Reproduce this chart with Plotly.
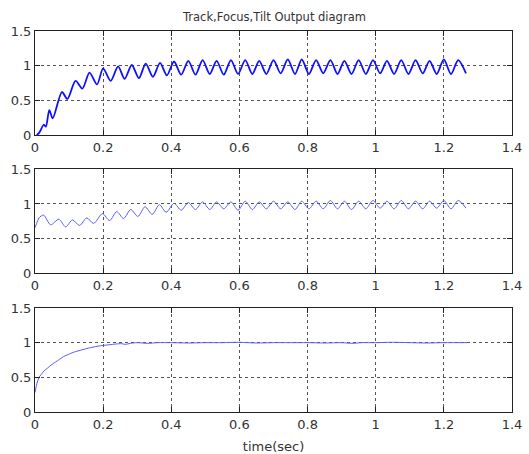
import plotly.graph_objects as go

# ---------------- data ----------------
x_ticks = [0, 0.2, 0.4, 0.6, 0.8, 1.0, 1.2, 1.4]
x_tick_labels = ["0", "0.2", "0.4", "0.6", "0.8", "1", "1.2", "1.4"]
y_ticks = [0, 0.5, 1.0, 1.5]
y_tick_labels = ["0", "0.5", "1", "1.5"]

title_text = "Track,Focus,Tilt Output diagram"
x_title = "time(sec)"

# Track output (top panel): peaks / troughs
track_t = [0.005, 0.012, 0.026, 0.032, 0.042, 0.052, 0.079, 0.095, 0.119, 0.139,
           0.160, 0.182, 0.200, 0.222, 0.244, 0.263, 0.284, 0.305, 0.325, 0.346,
           0.367, 0.387, 0.408, 0.429,
           0.450, 0.471, 0.492, 0.513, 0.533, 0.554, 0.575, 0.596, 0.617, 0.638,
           0.658, 0.679, 0.700, 0.721, 0.742, 0.763, 0.783, 0.804, 0.825, 0.846,
           0.867, 0.888, 0.908, 0.929, 0.950, 0.971, 0.992, 1.013, 1.033, 1.054,
           1.075, 1.096, 1.117, 1.138, 1.158, 1.179, 1.200, 1.221, 1.242, 1.265]
track_y = [0.00, 0.03, 0.15, 0.12, 0.36, 0.24, 0.62, 0.52, 0.78, 0.67,
           0.90, 0.73, 0.96, 0.78, 0.99, 0.81, 1.01, 0.82, 1.03, 0.84,
           1.04, 0.86, 1.06, 0.87,
           1.07, 0.87, 1.08, 0.88, 1.07, 0.87, 1.08, 0.88, 1.08, 0.88,
           1.07, 0.88, 1.08, 0.89, 1.09, 0.88, 1.09, 0.88, 1.08, 0.89,
           1.08, 0.88, 1.07, 0.88, 1.08, 0.88, 1.08, 0.89, 1.07, 0.88,
           1.08, 0.88, 1.08, 0.89, 1.07, 0.88, 1.09, 0.88, 1.08, 0.89]

# Focus output (middle panel)
focus_t = [0.000, 0.005, 0.012, 0.025, 0.046, 0.070, 0.090, 0.110, 0.131, 0.152,
           0.172, 0.198, 0.219, 0.240, 0.260, 0.281, 0.302, 0.323, 0.344, 0.365,
           0.385, 0.408, 0.429,
           0.450, 0.471, 0.492, 0.513, 0.533, 0.554, 0.575, 0.596, 0.617, 0.638,
           0.658, 0.679, 0.700, 0.721, 0.742, 0.763, 0.783, 0.804, 0.825, 0.846,
           0.867, 0.888, 0.908, 0.929, 0.950, 0.971, 0.992, 1.013, 1.033, 1.054,
           1.075, 1.096, 1.117, 1.138, 1.158, 1.179, 1.200, 1.221, 1.242, 1.265]
focus_y = [0.66, 0.72, 0.80, 0.84, 0.70, 0.78, 0.67, 0.77, 0.69, 0.80,
           0.72, 0.86, 0.76, 0.89, 0.79, 0.92, 0.82, 0.96, 0.85, 0.99,
           0.88, 1.01, 0.91,
           1.02, 0.92, 1.03, 0.92, 1.03, 0.93, 1.03, 0.91, 1.04, 0.92,
           1.03, 0.93, 1.04, 0.93, 1.03, 0.92, 1.04, 0.93, 1.04, 0.93,
           1.05, 0.93, 1.04, 0.92, 1.04, 0.93, 1.05, 0.94, 1.04, 0.93,
           1.05, 0.93, 1.04, 0.93, 1.04, 0.94, 1.05, 0.93, 1.05, 0.94]

# Tilt output (bottom panel)
tilt_t = [0.000, 0.004, 0.008, 0.012, 0.018, 0.026, 0.036, 0.048, 0.060, 0.072,
          0.084, 0.098, 0.112, 0.126, 0.141, 0.156, 0.170, 0.185, 0.200, 0.218,
          0.236, 0.255, 0.265, 0.280, 0.300, 0.330, 0.360, 0.400, 0.450, 0.500,
          0.550, 0.600, 0.650, 0.700, 0.750, 0.800, 0.850, 0.900, 0.930, 0.960,
          1.000, 1.050, 1.100, 1.150, 1.200, 1.268]
tilt_y = [0.28, 0.38, 0.45, 0.50, 0.54, 0.59, 0.63, 0.68, 0.72, 0.76,
          0.80, 0.83, 0.86, 0.88, 0.90, 0.92, 0.935, 0.95, 0.96, 0.97,
          0.98, 0.985, 0.975, 0.99, 1.0, 0.99, 1.0, 1.0, 0.995, 1.0,
          1.0, 1.005, 0.995, 1.0, 1.0, 1.0, 0.995, 1.0, 0.99, 1.0,
          1.0, 1.005, 1.0, 0.995, 1.0, 1.0]

# ---------------- figure ----------------
FONT = "DejaVu Sans"
TXT = "#333333"

fig = go.Figure()
fig.add_trace(go.Scatter(x=track_t, y=track_y, mode="lines",
                         line=dict(color="#1010ff", width=1.8, shape="spline", smoothing=0.8),
                         xaxis="x", yaxis="y", showlegend=False))
fig.add_trace(go.Scatter(x=focus_t, y=focus_y, mode="lines",
                         line=dict(color="#5a5aff", width=1, shape="spline", smoothing=0.8),
                         xaxis="x2", yaxis="y2", showlegend=False))
fig.add_trace(go.Scatter(x=tilt_t, y=tilt_y, mode="lines",
                         line=dict(color="#5a5aff", width=1, shape="spline", smoothing=0.8),
                         xaxis="x3", yaxis="y3", showlegend=False))

common = dict(showgrid=True, gridcolor="#555555", gridwidth=1, griddash="3px,3px",
              showline=True, linecolor="#222222", linewidth=1, mirror="ticks",
              ticks="inside", ticklen=5, tickcolor="#222222", zeroline=False,
              automargin=False,
              tickfont=dict(family=FONT, size=13, color=TXT))

def xax(anchor):
    d = dict(common)
    d.update(range=[0, 1.4], tickvals=x_ticks, ticktext=x_tick_labels, anchor=anchor)
    return d

def yax(anchor, dom):
    d = dict(common)
    d.update(range=[0, 1.5], tickvals=y_ticks, ticktext=y_tick_labels, anchor=anchor, domain=dom)
    return d

x3 = xax("y3")
x3["title"] = dict(text=x_title, font=dict(family=FONT, size=13, color=TXT), standoff=11)

fig.update_layout(
    width=529, height=454,
    margin=dict(l=35, r=17, t=31, b=42),
    paper_bgcolor="white", plot_bgcolor="white",
    xaxis=xax("y"), yaxis=yax("x", [0.727, 1.0]),
    xaxis2=xax("y2"), yaxis2=yax("x2", [0.364, 0.637]),
    xaxis3=x3, yaxis3=yax("x3", [0.0, 0.273]),
    annotations=[dict(text=title_text, x=0.5, y=1.0, xref="paper", yref="paper",
                      xanchor="center", yanchor="bottom", yshift=5, showarrow=False,
                      font=dict(family=FONT, size=11.5, color=TXT))],
)

fig.write_html("out.html")
